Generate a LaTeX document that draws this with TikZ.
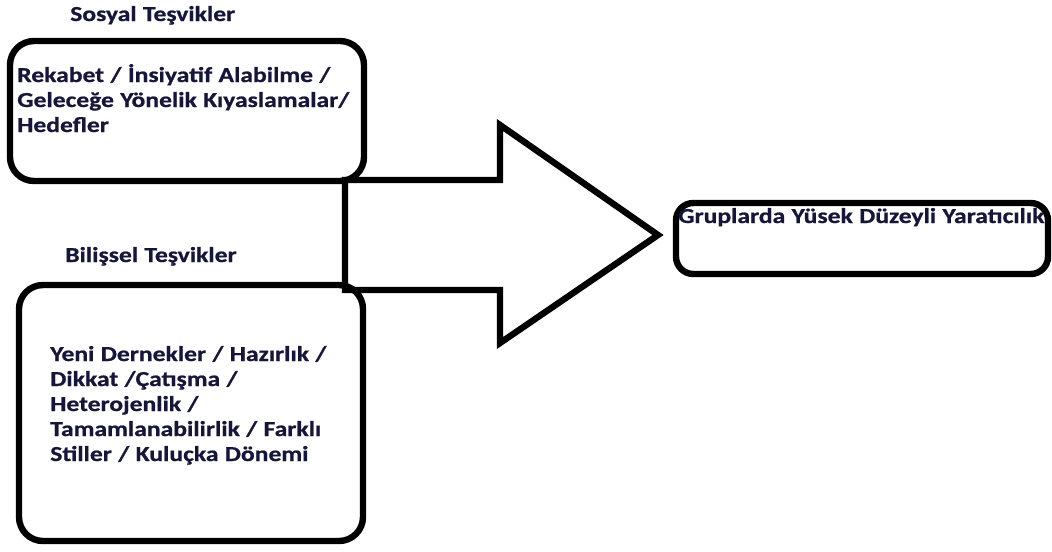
\documentclass[tikz,border=0pt]{standalone}
\usepackage{fontspec}
\setmainfont{Carlito}[FakeStretch=1.2,WordSpace=1.1,BoldFeatures={FakeBold=0.8}]
\definecolor{inkblue}{RGB}{22,22,58}
\begin{document}
\begin{tikzpicture}[x=0.75pt,y=-0.75pt,
  box/.style={draw=black,line width=4.8pt,rounded corners=#1,fill=none,inner sep=0pt},
  box/.default=18pt,
  label/.style={inner sep=0pt,anchor=base west,text=inkblue,
    font=\bfseries\fontsize{16}{18.75}\selectfont,align=left},
  bigarrow/.style={draw=black,line width=4.8pt,line join=miter}]
\useasboundingbox (0,0) rectangle (1052,551);

% boxes
\node[box, minimum width=265.5pt, minimum height=105pt] (social) at (187,111) {};
\node[box, minimum width=258pt, minimum height=192pt] (cognitive) at (191,413) {};
\node[box=13pt, minimum width=279pt, minimum height=53.25pt] (result) at (862,238.5) {};

% headings
\node[label] (socialtitle) at (70,21) {Sosyal Teşvikler};
\node[label] (cogtitle) at (65,262) {Bilişsel Teşvikler};

% box contents (anchored at the baseline of their last line)
\node[label] (socialtext) at (17,132) {Rekabet / İnsiyatif Alabilme /\\Geleceğe Yönelik Kıyaslamalar/\\Hedefler};
\node[label] (cogtext) at (50,461) {Yeni Dernekler / Hazırlık /\\Dikkat /Çatışma /\\Heterojenlik /\\Tamamlanabilirlik / Farklı\\Stiller / Kuluçka Dönemi};
\node[label] (resulttext) at (678,223) {Gruplarda Yüsek Düzeyli Yaratıcılık};

% block arrow
\coordinate (a1) at (345,180);
\coordinate (a2) at (500,180);
\coordinate (a3) at (500,125);
\coordinate (tip) at (658,235);
\coordinate (a5) at (500,343);
\coordinate (a6) at (500,290);
\coordinate (a7) at (345,290);
\draw[bigarrow] (a1) -- (a2) -- (a3) -- (tip) -- (a5) -- (a6) -- (a7) -- cycle;
\end{tikzpicture}
\end{document}
